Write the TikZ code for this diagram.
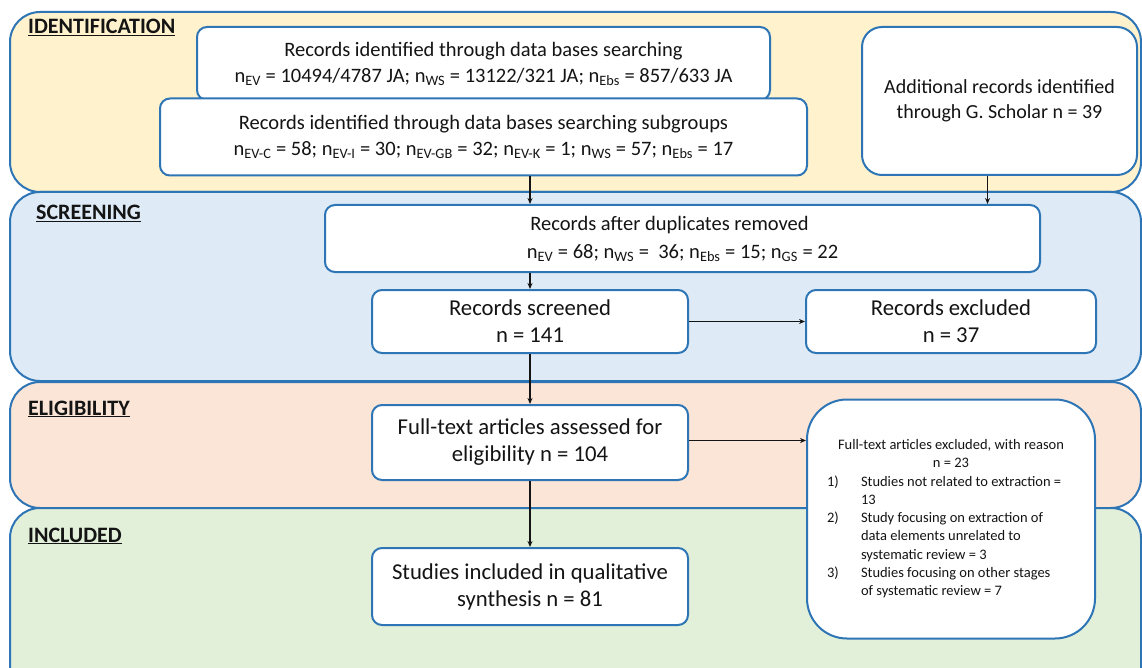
\documentclass[tikz,border=0pt]{standalone}
\usepackage{fontspec}
\setmainfont{Carlito}
\usetikzlibrary{arrows.meta}
\definecolor{bordb}{HTML}{2E75B6}
\definecolor{idfill}{HTML}{FFF2CC}
\definecolor{scfill}{HTML}{DEEBF7}
\definecolor{elfill}{HTML}{FBE5D6}
\definecolor{infill}{HTML}{E2F0D9}
\definecolor{txt}{HTML}{141414}
\newcommand{\sbs}[1]{\textsubscript{#1}}
\begin{document}
\begin{tikzpicture}[x=1pt,y=-1pt,
 panel/.style={draw=bordb, line width=2pt, rounded corners=30pt},
 box/.style={draw=bordb, line width=2pt, fill=white, rounded corners=10pt, align=center, inner sep=0pt, text=txt},
 lab/.style={anchor=base west, font=\fontsize{22}{22}\selectfont\bfseries, inner sep=0pt, text=txt},
 arr/.style={-{Stealth[length=6pt,width=5pt]}, line width=1.4pt, draw=txt},
 fA/.style={font=\fontsize{20.5}{26}\selectfont},
 fC/.style={font=\fontsize{20}{25}\selectfont},
 fD/.style={font=\fontsize{20.5}{28}\selectfont},
 fE/.style={font=\fontsize{22.7}{27}\selectfont},
 fH/.style={font=\fontsize{14.5}{18.25}\selectfont}
]
\useasboundingbox (0,0) rectangle (1142,668);
\begin{scope}
\clip (0,0) rectangle (1142,668);
% stage panels
\draw[panel, fill=idfill] (10,12) rectangle (1141,192);
\draw[panel, fill=scfill] (10,192) rectangle (1141,381);
\draw[panel, fill=elfill] (10,382) rectangle (1141,508);
\draw[panel, fill=infill] (10,508) rectangle (1141,700);
\end{scope}
% stage labels
\node[lab] (L1) at (28,34) {\underline{IDENTIFICATION}};
\node[lab] (L2) at (36,220) {\underline{SCREENING}};
\node[lab] (L3) at (28,415) {\underline{ELIGIBILITY}};
\node[lab] (L4) at (28,542) {\underline{INCLUDED}};
% boxes
\node[box, fA, minimum width=573pt, minimum height=73pt] (A) at (483.5,63.5)
 {Records identified through data bases searching\\
  n\sbs{EV} = 10494/4787 JA; n\sbs{WS} = 13122/321 JA; n\sbs{Ebs} = 857/633 JA};
\node[box, fA, minimum width=647pt, minimum height=77pt] (B) at (483.5,137)
 {Records identified through data bases searching subgroups\\
  n\sbs{EV-C} = 58; n\sbs{EV-I} = 30; n\sbs{EV-GB} = 32; n\sbs{EV-K} = 1; n\sbs{WS} = 57; n\sbs{Ebs} = 17};
\node[box, fC, rounded corners=20pt, minimum width=275pt, minimum height=148pt] (C) at (999.5,101)
 {Additional records identified\\ through G. Scholar n = 39};
\node[box, fD, minimum width=715pt, minimum height=67pt] (D) at (682.5,238.5)
 {Records after duplicates removed\hspace*{26pt}\\
  n\sbs{EV} = 68; n\sbs{WS} =\ \ 36; n\sbs{Ebs} = 15; n\sbs{GS} = 22};
\node[box, fE, minimum width=316pt, minimum height=63pt] (E) at (530,321.5)
 {Records screened\\ n = 141};
\node[box, fE, minimum width=290pt, minimum height=63pt] (F) at (951,321.5)
 {Records excluded\\ n = 37};
\node[box, fE, minimum width=316pt, minimum height=75pt] (G) at (530,442.5)
 {Full-text articles assessed for\\ eligibility n = 104};
\node[box, fE, minimum width=316pt, minimum height=77pt] (I) at (530,586.5)
 {Studies included in qualitative\\ synthesis n = 81};
\node[box, fH, rounded corners=40pt, minimum width=288pt, minimum height=239pt] (H) at (951,519)
 {\begin{tabular}{@{}p{35pt}@{}p{215pt}@{}}
  \multicolumn{2}{@{}c@{}}{Full-text articles excluded, with reason}\\
  \multicolumn{2}{@{}c@{}}{n = 23}\\
  \hspace*{1pt}1) & Studies not related to extraction =\\
     & 13\\
  \hspace*{1pt}2) & Study focusing on extraction of\\
     & data elements unrelated to\\
     & systematic review = 3\\
  \hspace*{1pt}3) & Studies focusing on other stages\\
     & of systematic review = 7
  \end{tabular}};
% connectors
\draw[arr] (B.south -| E.north) -- (D.north -| E.north);
\draw[arr] ([xshift=-12pt]C.south) -- ([xshift=-12pt]C.south |- D.north);
\draw[arr] (D.south -| E.north) -- (E.north);
\draw[arr] (E.south) -- (G.north);
\draw[arr] (E.east) -- (F.west);
\draw[arr] ([yshift=2pt]G.east) -- ([yshift=2pt]G.east -| H.west);
\draw[arr] (G.south) -- (I.north);
\end{tikzpicture}
\end{document}
